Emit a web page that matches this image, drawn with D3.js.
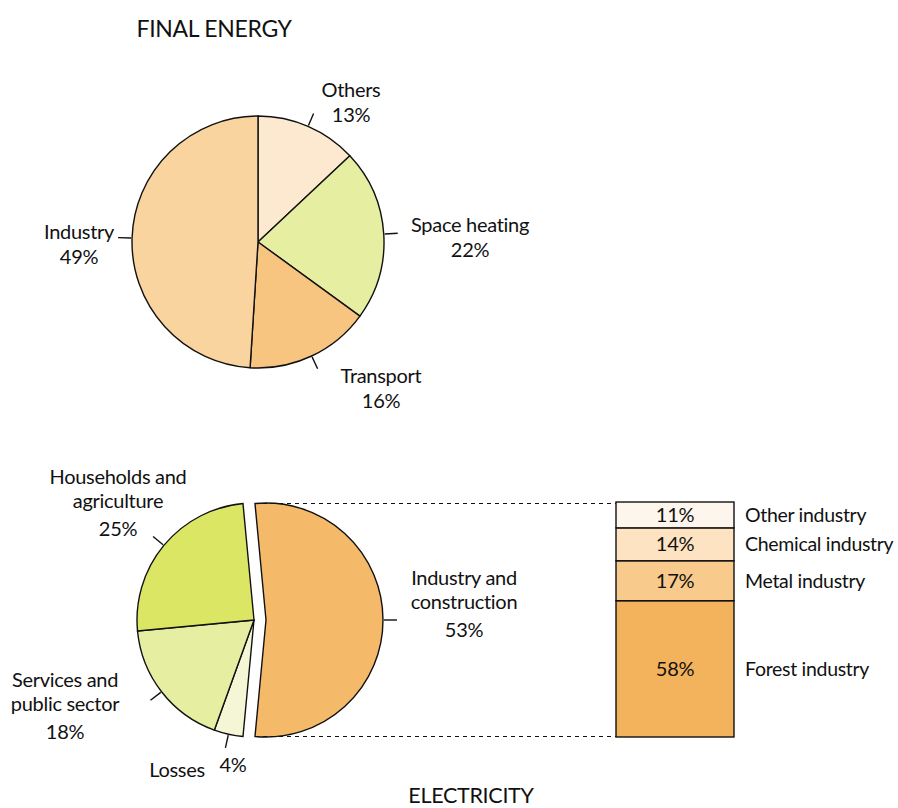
<!DOCTYPE html>
<html><head><meta charset="utf-8">
<script src="https://cdn.jsdelivr.net/npm/d3@7"></script>
<style>
body{margin:0;background:#fff;}
text{font-family:Lato,"Open Sans",sans-serif;fill:#111;letter-spacing:-0.3px;}
</style></head>
<body><svg id="c" width="898" height="808"></svg>
<script>
// ---- data ----
const finalCategories = ["Others","Space heating","Transport","Industry"];
const finalValues = [13,22,16,49];
const finalColors = ["#fce9cf","#e6eea2","#f8c580","#f9d49f"];

const elecCategories = ["Industry and construction","Losses","Services and public sector","Households and agriculture"];
const elecValues = [53,4,18,25];
const elecColors = ["#f5b96a","#f4f6d6","#e6eea2","#dbe764"];

const industryCategories = ["Forest industry","Metal industry","Chemical industry","Other industry"];
const industryValues = [58,17,14,11];
const industryColors = ["#f2b35c","#f8ca8c","#fde3c1","#fef6ec"];

const svg = d3.select("#c");
const fs = 20;

// ---- top pie ----
const c1 = {x:258, y:242, r:126};
const pie1 = d3.pie().sort(null).value(d=>d)(finalValues);
const arc1 = d3.arc().innerRadius(0).outerRadius(c1.r);
const g1 = svg.append("g").attr("transform",`translate(${c1.x},${c1.y})`);
g1.selectAll("path").data(pie1).join("path")
  .attr("d",arc1).attr("fill",(d,i)=>finalColors[i])
  .attr("stroke","#111").attr("stroke-width",1.4).attr("stroke-linejoin","round");
const tick = (g,a,r0,r1)=>g.append("line")
  .attr("x1",Math.sin(a)*r0).attr("y1",-Math.cos(a)*r0)
  .attr("x2",Math.sin(a)*r1).attr("y2",-Math.cos(a)*r1)
  .attr("stroke","#111").attr("stroke-width",1.4);
pie1.forEach(d=>tick(g1,(d.startAngle+d.endAngle)/2,c1.r+1,c1.r+14));
const finalLabelPos = [[93,-145],[212,-10],[123,141],[-179,-3]];
pie1.forEach((d,i)=>{
  const t = g1.append("text").attr("text-anchor","middle").attr("font-size",fs)
    .attr("x",finalLabelPos[i][0]).attr("y",finalLabelPos[i][1]);
  t.append("tspan").attr("x",finalLabelPos[i][0]).text(finalCategories[i]);
  t.append("tspan").attr("x",finalLabelPos[i][0]).attr("dy",25).text(finalValues[i]+"%");
});
svg.append("text").attr("x",214).attr("y",37).attr("text-anchor","middle")
  .attr("font-size",23).text("FINAL ENERGY");

// ---- bottom pie ----
const c2 = {x:254, y:620, r:117, explode:12};
const start2 = (0.25 - elecValues[0]/200)*2*Math.PI;
const pie2 = d3.pie().sort(null).value(d=>d)
  .startAngle(start2).endAngle(start2+2*Math.PI)(elecValues);
const arc2 = d3.arc().innerRadius(0).outerRadius(c2.r);
const g2 = svg.append("g").attr("transform",`translate(${c2.x},${c2.y})`);
g2.selectAll("path").data(pie2).join("path")
  .attr("d",arc2).attr("fill",(d,i)=>elecColors[i])
  .attr("transform",(d,i)=>i===0?`translate(${c2.explode},0)`:null)
  .attr("stroke","#111").attr("stroke-width",1.4).attr("stroke-linejoin","miter");
pie2.forEach((d,i)=>{
  const gg = i===0 ? g2.append("g").attr("transform",`translate(${c2.explode},0)`) : g2;
  tick(gg,(d.startAngle+d.endAngle)/2,c2.r+1,c2.r+14);
});
const elecLabelLines = [["Industry and","construction"],["Losses"],["Services and","public sector"],["Households and","agriculture"]];
const elecLabelPos = [[210,-35],[-77,157],[-189,67],[-136,-136]];
pie2.forEach((d,i)=>{
  const p = elecLabelPos[i];
  const t = g2.append("text").attr("text-anchor","middle").attr("font-size",fs).attr("y",p[1]);
  elecLabelLines[i].forEach((l,k)=>t.append("tspan").attr("x",p[0]).attr("dy",k?24:0).text(l));
  if(i===1){
    g2.append("text").attr("text-anchor","middle").attr("font-size",fs)
      .attr("x",-21).attr("y",152).text(elecValues[i]+"%");
  } else {
    t.append("tspan").attr("x",p[0]).attr("dy",28).text(elecValues[i]+"%");
  }
});
svg.append("text").attr("x",471).attr("y",803).attr("text-anchor","middle")
  .attr("font-size",21.5).text("ELECTRICITY");

// ---- stacked bar ----
const barX0 = 616, barX1 = 734;
const y = d3.scaleLinear().domain([0,100]).range([737,502]);
let cum = 0;
const stack = industryValues.map((v,i)=>{const s={v,i,y0:cum,y1:cum+v};cum+=v;return s;});
const gb = svg.append("g");
gb.selectAll("rect").data(stack).join("rect")
  .attr("x",barX0).attr("width",barX1-barX0)
  .attr("y",d=>y(d.y1)).attr("height",d=>y(d.y0)-y(d.y1))
  .attr("fill",d=>industryColors[d.i]).attr("stroke","#111").attr("stroke-width",1.4);
gb.selectAll("text.pct").data(stack).join("text").attr("class","pct")
  .attr("x",(barX0+barX1)/2).attr("y",d=>(y(d.y0)+y(d.y1))/2+7)
  .attr("text-anchor","middle").attr("font-size",fs).text(d=>d.v+"%");
gb.selectAll("text.cat").data(stack).join("text").attr("class","cat")
  .attr("x",745).attr("y",d=>(y(d.y0)+y(d.y1))/2+7)
  .attr("font-size",19.5).text(d=>industryCategories[d.i]);

// dashed connectors from exploded slice corners
const s0 = pie2[0];
[s0.startAngle, s0.endAngle].forEach(a=>{
  const px = c2.x + c2.explode + Math.sin(a)*c2.r;
  const py = c2.y - Math.cos(a)*c2.r;
  svg.append("line").attr("x1",px).attr("y1",py).attr("x2",barX0).attr("y2",py)
    .attr("stroke","#111").attr("stroke-width",1.2).attr("stroke-dasharray","4,4");
});
</script></body></html>
